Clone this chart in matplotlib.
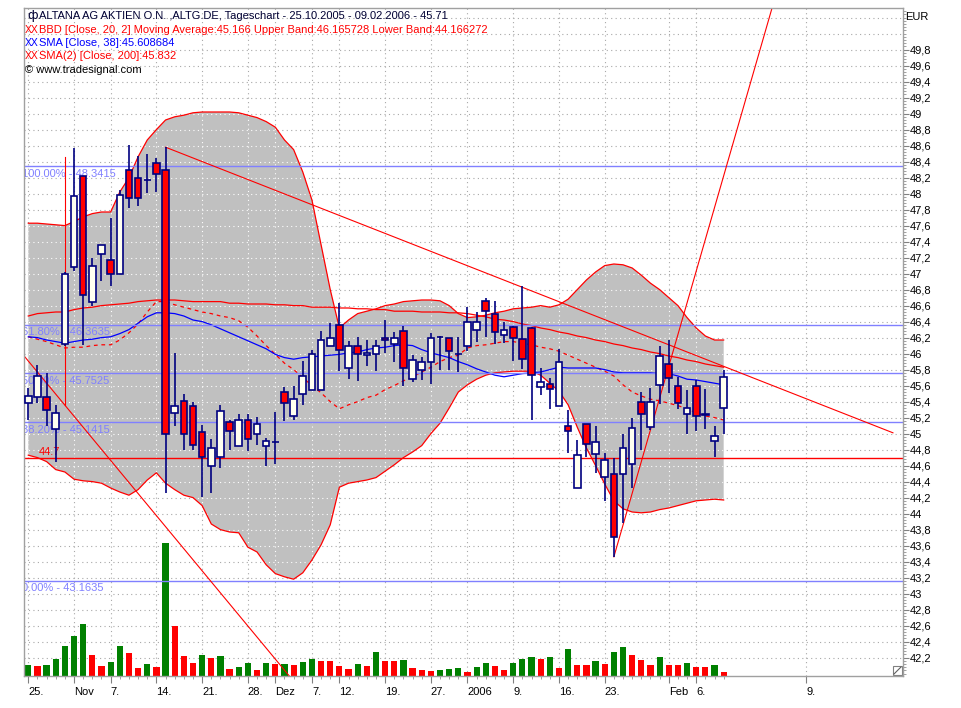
import matplotlib
matplotlib.use("Agg")
import matplotlib.pyplot as plt
import matplotlib.transforms as mtransforms
from matplotlib.patches import Rectangle
from matplotlib.lines import Line2D
import numpy as np

plt.rcParams['font.family'] = ['Liberation Sans', 'DejaVu Sans']

# ---------------- data ----------------
open_ = [45.38, 45.46, 45.46, 45.06, 46.12, 47.08, 48.22, 46.65, 47.25, 47.17,
         47.00, 48.30, 48.20, 48.17, 48.38, 48.30, 45.26, 45.41, 45.35, 45.02,
         44.60, 44.71, 45.14, 44.85, 45.17, 44.99, 44.84, 44.90, 45.52, 45.22,
         45.50, 45.55, 45.55, 46.10, 46.36, 45.82, 46.10, 45.98, 45.99, 46.20,
         46.12, 46.28, 45.68, 45.79, 45.90, 46.21, 46.19, 46.00, 46.10, 46.29,
         46.66, 46.50, 46.23, 46.33, 46.18, 46.32, 45.58, 45.62, 45.34, 45.10,
         44.32, 45.12, 44.75, 44.46, 44.50, 44.50, 44.62, 45.40, 45.08, 45.61,
         45.87, 45.60, 45.25, 45.60, 45.23, 44.91, 45.32]
high = [45.57, 45.86, 45.76, 45.36, 47.02, 48.57, 48.22, 47.20, 47.36, 47.69,
        48.05, 48.61, 48.47, 48.50, 48.45, 48.58, 46.01, 45.50, 45.40, 45.11,
        44.93, 45.36, 45.17, 45.25, 45.25, 45.21, 44.95, 45.27, 45.58, 45.59,
        45.91, 46.05, 46.28, 46.38, 46.63, 46.16, 46.21, 46.17, 46.17, 46.42,
        46.27, 46.34, 45.98, 45.96, 46.26, 46.22, 46.20, 46.21, 46.58, 46.52,
        46.70, 46.66, 46.40, 46.35, 46.84, 46.33, 45.82, 45.69, 46.06, 45.30,
        44.92, 45.12, 45.10, 44.76, 44.69, 45.00, 45.19, 45.52, 45.57, 46.10,
        46.17, 45.71, 45.55, 45.67, 45.56, 45.09, 45.79]
low = [45.17, 45.38, 45.09, 44.65, 46.10, 47.03, 46.11, 46.60, 46.91, 46.84,
       47.00, 47.82, 47.84, 48.01, 48.02, 44.26, 45.09, 44.80, 44.80, 44.21,
       44.26, 44.57, 44.80, 44.85, 44.78, 44.86, 44.60, 44.62, 45.16, 45.17,
       45.36, 45.55, 45.55, 46.10, 45.78, 45.68, 45.66, 45.85, 45.78, 46.01,
       45.90, 45.59, 45.64, 45.67, 45.62, 45.80, 45.80, 45.77, 46.03, 46.15,
       46.21, 46.12, 46.13, 45.91, 45.81, 45.17, 45.48, 45.31, 45.34, 44.76,
       44.32, 44.71, 44.51, 44.16, 43.46, 43.88, 44.32, 44.79, 45.05, 45.37,
       45.51, 45.31, 45.00, 45.03, 45.06, 44.71, 45.00]
close = [45.47, 45.72, 45.30, 45.26, 47.00, 47.97, 46.73, 47.10, 47.36, 47.00,
         47.98, 47.95, 47.94, 48.17, 48.25, 45.00, 45.35, 44.99, 44.86, 44.71,
         44.82, 45.28, 45.03, 45.17, 44.93, 45.12, 44.91, 44.90, 45.38, 45.43,
         45.72, 46.00, 46.17, 46.20, 46.04, 46.10, 46.00, 46.01, 46.10, 46.17,
         46.20, 45.82, 45.92, 45.90, 46.19, 46.21, 46.03, 46.00, 46.40, 46.39,
         46.53, 46.27, 46.29, 46.19, 45.93, 45.73, 45.65, 45.56, 45.90, 45.03,
         44.73, 44.87, 44.89, 44.67, 43.71, 44.82, 45.07, 45.25, 45.40, 45.97,
         45.69, 45.38, 45.32, 45.22, 45.25, 44.97, 45.71]
volume = [110, 100, 110, 173, 300, 400, 520, 210, 100, 140,
          300, 230, 80, 120, 90, 1330, 500, 200, 130, 210,
          180, 200, 70, 90, 130, 60, 130, 118, 122, 110,
          140, 170, 152, 148, 100, 70, 120, 100, 240, 155,
          151, 163, 83, 63, 53, 63, 73, 83, 43, 93,
          133, 103, 63, 133, 173, 193, 173, 193, 83, 273,
          113, 110, 153, 123, 243, 293, 213, 163, 113, 193,
          113, 110, 133, 93, 90, 113, 43]

bb_upper = [47.63, 47.63, 47.62, 47.61, 47.60, 47.65, 47.71, 47.75, 47.77, 47.77,
            48.02, 48.20, 48.46, 48.67, 48.80, 48.92, 48.96, 48.98, 49.01, 49.02,
            49.02, 49.02, 49.02, 49.01, 48.98, 48.95, 48.90, 48.83, 48.67, 48.55,
            48.27, 47.92, 47.36, 46.80, 46.32, 46.42, 46.50, 46.53, 46.56, 46.60,
            46.62, 46.65, 46.66, 46.67, 46.67, 46.66, 46.60, 46.50, 46.45, 46.46,
            46.48, 46.51, 46.53, 46.56, 46.57, 46.58, 46.60, 46.58, 46.61, 46.68,
            46.80, 46.92, 47.02, 47.10, 47.12, 47.11, 47.07, 46.98, 46.88, 46.80,
            46.70, 46.60, 46.45, 46.32, 46.22, 46.17, 46.17]
bb_lower = [44.73, 44.70, 44.65, 44.55, 44.52, 44.43, 44.41, 44.40, 44.38, 44.32,
            44.27, 44.23, 44.30, 44.42, 44.51, 44.38, 44.30, 44.23, 44.20, 44.10,
            43.87, 43.80, 43.77, 43.76, 43.58, 43.52, 43.36, 43.25, 43.21, 43.18,
            43.26, 43.42, 43.61, 43.86, 44.33, 44.38, 44.40, 44.42, 44.45, 44.53,
            44.61, 44.70, 44.77, 44.85, 45.00, 45.13, 45.32, 45.52, 45.61, 45.68,
            45.73, 45.76, 45.77, 45.78, 45.78, 45.78, 45.73, 45.63, 45.53, 45.36,
            45.08, 44.82, 44.60, 44.37, 44.16, 44.06, 44.02, 44.01, 44.02, 44.05,
            44.07, 44.10, 44.13, 44.16, 44.17, 44.18, 44.17]
bb_mid = [46.21, 46.18, 46.15, 46.11, 46.07, 46.08, 46.08, 46.10, 46.11, 46.11,
          46.17, 46.26, 46.37, 46.52, 46.65, 46.65, 46.61, 46.58, 46.55, 46.52,
          46.50, 46.47, 46.45, 46.41, 46.33, 46.22, 46.10, 45.99, 45.88, 45.80,
          45.70, 45.60, 45.51, 45.40, 45.31, 45.36, 45.40, 45.45, 45.48, 45.55,
          45.60, 45.66, 45.71, 45.77, 45.83, 45.90, 45.95, 45.98, 46.07, 46.10,
          46.11, 46.13, 46.15, 46.15, 46.13, 46.11, 46.08, 46.06, 46.03, 45.98,
          45.93, 45.88, 45.83, 45.78, 45.72, 45.61, 45.52, 45.47, 45.43, 45.41,
          45.38, 45.35, 45.31, 45.26, 45.22, 45.20, 45.17]
sma38 = [46.21, 46.20, 46.17, 46.15, 46.13, 46.15, 46.17, 46.18, 46.20, 46.21,
         46.25, 46.30, 46.38, 46.46, 46.51, 46.51, 46.50, 46.47, 46.42, 46.40,
         46.36, 46.31, 46.26, 46.21, 46.16, 46.11, 46.06, 45.99, 45.95, 45.93,
         45.95, 45.96, 45.97, 45.98, 45.99, 46.01, 46.02, 46.05, 46.07, 46.08,
         46.10, 46.11, 46.10, 46.05, 46.01, 45.98, 45.95, 45.90, 45.86, 45.81,
         45.77, 45.73, 45.71, 45.73, 45.75, 45.76, 45.77, 45.80, 45.83, 45.82,
         45.82, 45.82, 45.82, 45.80, 45.77, 45.76, 45.76, 45.76, 45.76, 45.75,
         45.75, 45.72, 45.68, 45.67, 45.65, 45.63, 45.61]
sma200 = [46.47, 46.50, 46.51, 46.52, 46.52, 46.55, 46.57, 46.58, 46.60, 46.61,
          46.62, 46.63, 46.65, 46.66, 46.67, 46.67, 46.67, 46.66, 46.65, 46.65,
          46.65, 46.65, 46.63, 46.63, 46.62, 46.62, 46.62, 46.61, 46.61, 46.60,
          46.60, 46.58, 46.58, 46.58, 46.57, 46.57, 46.56, 46.56, 46.55, 46.55,
          46.53, 46.53, 46.53, 46.52, 46.52, 46.52, 46.51, 46.51, 46.50, 46.48,
          46.46, 46.43, 46.42, 46.40, 46.37, 46.35, 46.32, 46.30, 46.27, 46.25,
          46.22, 46.20, 46.17, 46.15, 46.12, 46.10, 46.07, 46.05, 46.02, 46.00,
          45.97, 45.95, 45.92, 45.90, 45.87, 45.85, 45.83]

fib_levels = [48.3415, 46.3635, 45.7525, 45.1415, 43.1635]
fib_labels = ["100.00% - 48.3415", "61.80% - 46.3635", "50.00% - 45.7525",
              "38.20% - 45.1415", "0.00% - 43.1635"]
support_level = 44.7

# drawn trend lines: (x0, y0, x1, y1) in bar index / price
trend_lines = [(15, 48.58, 94.5, 45.01),
               (-0.6, 45.99, 28.6, 41.96),
               (4, 48.46, 4, 45.36),
               (64, 43.46, 83.0, 51.0)]

tick_idx = [0, 5, 9, 14, 19, 24, 27, 31, 34, 39, 44, 48, 53, 58, 63, 70, 73, 85]
tick_lbl = ["25.", "Nov", "7.", "14.", "21.", "28.", "Dez", "7.", "12.", "19.",
            "27.", "2006", "9.", "16.", "23.", "Feb", "6.", "9."]

header = [
    ("ALTANA AG AKTIEN O.N. ,ALTG.DE, Tageschart - 25.10.2005 - 09.02.2006 - 45.71", "#000033"),
    ("BBD [Close, 20, 2] Moving Average:45.166 Upper Band:46.165728 Lower Band:44.166272", "#FF0000"),
    ("SMA [Close, 38]:45.608684", "#0000FF"),
    ("SMA(2) [Close, 200]:45.832", "#FF0000"),
]
copyright_txt = "\u00a9 www.tradesignal.com"

# ---------------- figure ----------------
n = len(close)
idx = np.arange(n)
W, H = 961, 708
fig = plt.figure(figsize=(W / 100, H / 100), dpi=100, facecolor="white")
L, R, T, B = 24, 903, 8, 676
rect = [L / W, 1 - B / H, (R - L) / W, (B - T) / H]

axv = fig.add_axes(rect)
ax = fig.add_axes(rect, sharex=axv)
ax.patch.set_visible(False)
axv.set_zorder(1)
ax.set_zorder(2)

ax.set_xlim(-0.47, 95.6)
ax.set_ylim(41.97, 50.32)
axv.set_ylim(0, 6680)
axv.set_axis_off()

grid_c = "#A8A8A8"
dots = (0, (1, 3))
grid_levels = np.round(np.arange(42.2, 50.21, 0.2), 1)
blend = mtransforms.blended_transform_factory(axv.transAxes, ax.transData)
for p in grid_levels:
    axv.plot([0, 1], [p, p], transform=blend, color=grid_c, lw=0.8, ls=dots, zorder=0)
for t in tick_idx:
    axv.axvline(t, color=grid_c, lw=0.8, ls=dots, zorder=0)

# volume, colour by change of volume
vcol = ["#008000" if (i == 0 or volume[i] >= volume[i - 1]) else "#FF0000" for i in range(n)]
axv.bar(idx, volume, width=0.68, color=vcol, edgecolor="none", zorder=2)

# bollinger band fill
poly = ax.fill_between(idx, bb_lower, bb_upper, facecolor="#C0C0C0", edgecolor="none", zorder=1)
cpath = poly.get_paths()[0]
for p in grid_levels:
    ln = ax.axhline(p, color="white", lw=0.8, ls=dots, zorder=1.2)
    ln.set_clip_path(cpath, ax.transData)
for t in tick_idx:
    ln = ax.axvline(t, color="white", lw=0.8, ls=dots, zorder=1.2)
    ln.set_clip_path(cpath, ax.transData)

lw = 0.9
ax.plot(idx, bb_upper, color="#FF0000", lw=lw, zorder=2)
ax.plot(idx, bb_lower, color="#FF0000", lw=lw, zorder=2)
ax.plot(idx, bb_mid, color="#FF0000", lw=lw, ls=(0, (3, 3)), zorder=2)
ax.plot(idx, sma38, color="#0000FF", lw=lw, zorder=2)
ax.plot(idx, sma200, color="#FF0000", lw=lw, zorder=2)

for lev, lab in zip(fib_levels, fib_labels):
    ax.axhline(lev, color="#8080FF", lw=1.0, zorder=2.2)
    ax.text(-0.68, lev - 0.094, lab, color="#8080FF", fontsize=8, va="center",
            ha="left", zorder=2.1, clip_on=True)
ax.axhline(support_level, color="#FF0000", lw=1.0, zorder=2.2)
ax.text(2.3, support_level + 0.068, "44.7", color="#FF0000", fontsize=8,
        ha="center", va="center", zorder=2.3)

for x0, y0, x1, y1 in trend_lines:
    ax.plot([x0, x1], [y0, y1], color="#FF0000", lw=0.8, zorder=2.5)

# candles
navy = "#000080"
ax.vlines(idx, low, high, color=navy, lw=1.2, zorder=3)
bw = 0.72
for i in range(n):
    o, c = open_[i], close[i]
    fc = "#FFFFF0" if c >= o else "#FF0000"
    ax.add_patch(Rectangle((i - bw / 2, min(o, c)), bw, abs(c - o), facecolor=fc,
                           edgecolor=navy, lw=1.2, zorder=4))

# axes styling
for s in ax.spines.values():
    s.set_color("#A0A0A0")
    s.set_linewidth(1.0)
ax.yaxis.tick_right()
yt = np.round(np.arange(42.2, 49.81, 0.2), 1)
ax.set_yticks(yt)
ax.set_yticklabels([(f"{v:.1f}".replace(".", ",")).replace(",0", "") for v in yt])
ax.set_yticks(np.arange(42.0, 50.3, 0.04), minor=True)
ax.tick_params(axis="y", which="major", length=4, width=0.8, color="#808080",
               labelsize=8, pad=1, labelcolor="black")
ax.tick_params(axis="y", which="minor", length=2, width=0.6, color="#909090")
ax.set_xticks(tick_idx)
ax.set_xticklabels(tick_lbl, ha="left")
ax.set_xticks(idx, minor=True)
ax.tick_params(axis="x", which="major", length=5, width=0.8, color="#808080",
               labelsize=8, pad=3)
ax.tick_params(axis="x", which="minor", length=2, width=0.6, color="#909090")

# header texts
def ftext(x, y, s, **kw):
    fig.text(x / W, 1 - y / H, s, va="center", ha="left", **kw)

ftext(27, 16, "\u0444", color="#000033", fontsize=9, family="DejaVu Sans")
ftext(39, 16, header[0][0], color=header[0][1], fontsize=8)
for k, (s, col) in enumerate(header[1:]):
    y = 30 + 13 * k
    ftext(25, y, "XX", color=col, fontsize=7.5,
          family=["Liberation Sans Narrow", "Liberation Sans"])
    ftext(39, y, s, color=col, fontsize=8)
ftext(25, 70, copyright_txt, color="black", fontsize=8)
ftext(905, 17, "EUR", color="black", fontsize=8)

# resize glyph in the corner
fig.add_artist(Rectangle((893 / W, 1 - 675 / H), 9 / W, 9 / H, transform=fig.transFigure,
                         fill=False, ec="#808080", lw=0.8))
fig.add_artist(Line2D([894 / W, 901 / W], [1 - 674 / H, 1 - 667 / H],
                      transform=fig.transFigure, color="#606060", lw=0.8))

fig.savefig("out.png", dpi=100, facecolor="white")
